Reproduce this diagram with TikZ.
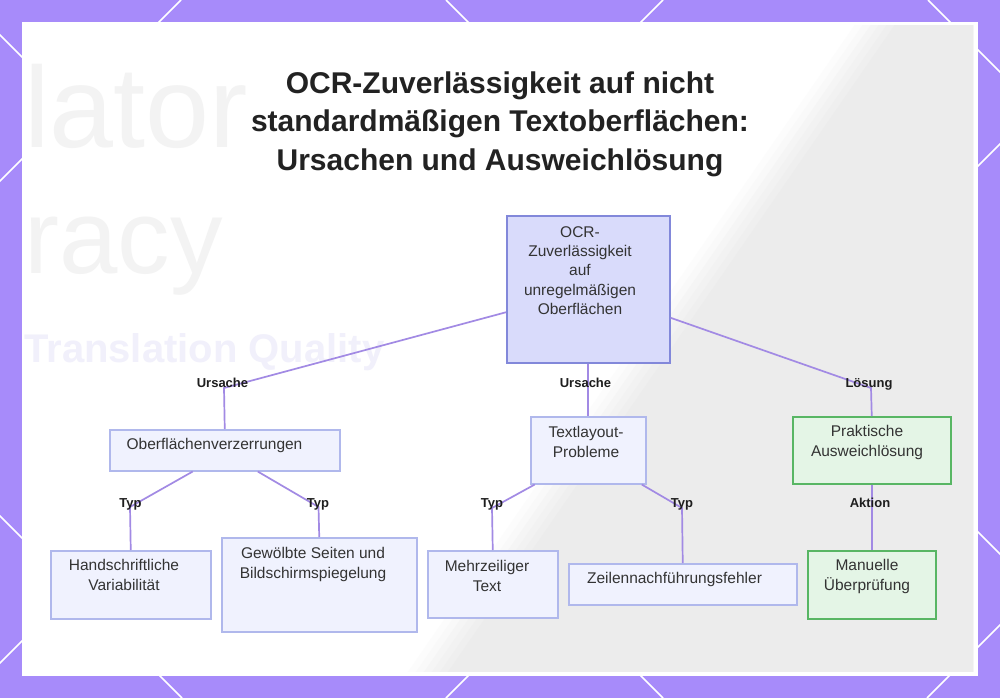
\documentclass[tikz,border=0pt]{standalone}
\usepackage{fontspec}
\setmainfont{Liberation Sans}
\definecolor{bgpurple}{RGB}{167,139,250}
\definecolor{linec}{RGB}{162,138,228}
\definecolor{rootf}{RGB}{217,219,251}
\definecolor{rootd}{RGB}{130,136,218}
\definecolor{bluef}{RGB}{240,242,254}
\definecolor{blued}{RGB}{176,184,236}
\definecolor{greenf}{RGB}{228,245,230}
\definecolor{greend}{RGB}{88,182,100}
\definecolor{txt}{RGB}{51,51,51}
\definecolor{lblc}{RGB}{30,30,30}
\definecolor{titlec}{RGB}{34,34,34}
\definecolor{faint}{RGB}{243,243,243}
\definecolor{faintlav}{RGB}{241,240,251}
\begin{document}
\begin{tikzpicture}[x=1pt,y=-1pt,
  conn/.style={draw=linec, line width=1.7pt},
  boxbase/.style={anchor=north west, inner sep=0pt, line width=1.5pt},
  rootbox/.style={boxbase, draw=rootd, fill=rootf},
  bluebox/.style={boxbase, draw=blued, fill=bluef},
  greenbox/.style={boxbase, draw=greend, fill=greenf},
  boxtext/.style={anchor=north, inner sep=0pt, align=center, font=\fontsize{15.5}{19.2}\selectfont, text=txt},
  lbl/.style={anchor=base, inner sep=0pt, font=\bfseries\fontsize{13}{15}\selectfont, text=lblc},
  pattern line/.style={white, line width=1.5pt},
]
\useasboundingbox (0,0) rectangle (1000,698);
% purple frame with lattice lines
\fill[bgpurple] (0,0) rectangle (1000,698);
\begin{scope}
  \clip (0,0) rectangle (1000,698);
  \foreach \c in {181,663,1144,1625} \draw[pattern line] (\c,0) -- (\c-698,698);
  \foreach \c in {-516,-35,446,928} \draw[pattern line] (\c,0) -- (\c+698,698);
\end{scope}
% card
\fill[white] (22,22) rectangle (978,676);
\begin{scope}
  \clip (26,26) rectangle (973,671);
  \foreach \i/\s in {0/1.2,1/2.5,2/3.8,3/5,4/6.2,5/7.6}
    \fill[black!\s] (872+8*\i,0) -- (1000,0) -- (1000,698) -- (390+8*\i,698) -- cycle;
\end{scope}
\begin{scope}
  \clip (22,22) rectangle (978,676);
  \node[anchor=base west, inner sep=0pt, font=\fontsize{115}{115}\selectfont, text=faint] (bga) at (24,147) {lator};
  \node[anchor=base west, inner sep=0pt, font=\fontsize{105}{105}\selectfont, text=faint] (bgb) at (24,273) {racy};
  \node[anchor=base west, inner sep=0pt, font=\bfseries\fontsize{40}{40}\selectfont, text=faintlav] (bgc) at (24,362) {Translation Quality};
\end{scope}
% title
\node[anchor=north, align=center, inner sep=0pt, font=\bfseries\fontsize{30}{38.5}\selectfont, text=titlec] (title) at (500,71.5)
  {OCR-Zuverlässigkeit auf nicht\\standardmäßigen Textoberflächen:\\Ursachen und Ausweichlösung};
% boxes
\node[rootbox, minimum width=163pt, minimum height=147pt] (root) at (506,215) {};
\node[bluebox, minimum width=230pt, minimum height=41pt] (oberfl) at (109,429) {};
\node[bluebox, minimum width=160pt, minimum height=68pt] (hand) at (50,550) {};
\node[bluebox, minimum width=195pt, minimum height=94pt] (gew) at (221,537) {};
\node[bluebox, minimum width=115pt, minimum height=67pt] (textl) at (530,416) {};
\node[bluebox, minimum width=130pt, minimum height=67pt] (mehr) at (427,550) {};
\node[bluebox, minimum width=228pt, minimum height=41pt] (zeil) at (568,563) {};
\node[greenbox, minimum width=158pt, minimum height=67pt] (prak) at (792,416) {};
\node[greenbox, minimum width=128pt, minimum height=68pt] (man) at (807,550) {};
% connectors
\coordinate (k1) at (224,388);
\coordinate (k3) at (871,388);
\coordinate (k4) at (130,507);
\coordinate (k5) at (318.5,507);
\coordinate (k6) at (492,508);
\coordinate (k7) at (682,508);
\draw[conn] ([yshift=-23pt]root.west) -- (k1) -- (oberfl.north);
\draw[conn] (root.south) -- (textl.north);
\draw[conn] ([yshift=-28.5pt]root.east) -- (k3) -- (prak.north);
\draw[conn] ([xshift=-32pt]oberfl.south) -- (k4) -- (hand.north);
\draw[conn] ([xshift=33pt]oberfl.south) -- (k5) -- (gew.north);
\draw[conn] ([xshift=-53.5pt]textl.south) -- (k6) -- (mehr.north);
\draw[conn] ([xshift=53.5pt]textl.south) -- (k7) -- (zeil.north);
\draw[conn] (prak.south) -- (man.north);
% box texts
\node[boxtext] (troot) at (580,226.5) {OCR-\\Zuverlässigkeit\\auf\\unregelmäßigen\\Oberflächen};
\node[boxtext] (toberfl) at (214.5,438.5) {Oberflächenverzerrungen};
\node[boxtext] (thand) at (124,559.5) {Handschriftliche\\Variabilität};
\node[boxtext] (tgew) at (313,547.5) {Gewölbte Seiten und\\Bildschirmspiegelung};
\node[boxtext] (ttextl) at (586,426.5) {Textlayout-\\Probleme};
\node[boxtext] (tmehr) at (487,560.5) {Mehrzeiliger\\Text};
\node[boxtext] (tzeil) at (674.5,572.5) {Zeilennachführungsfehler};
\node[boxtext] (tprak) at (867,425.5) {Praktische\\Ausweichlösung};
\node[boxtext] (tman) at (867,559.5) {Manuelle\\Überprüfung};
% edge labels
\node[lbl] (l1) at (222.5,387) {Ursache};
\node[lbl] (l2) at (585.5,387) {Ursache};
\node[lbl] (l3) at (869,387) {Lösung};
\node[lbl] (l4) at (130.5,507) {Typ};
\node[lbl] (l5) at (318,507) {Typ};
\node[lbl] (l6) at (492,507) {Typ};
\node[lbl] (l7) at (682,507) {Typ};
\node[lbl] (l8) at (870,507) {Aktion};
\end{tikzpicture}
\end{document}
